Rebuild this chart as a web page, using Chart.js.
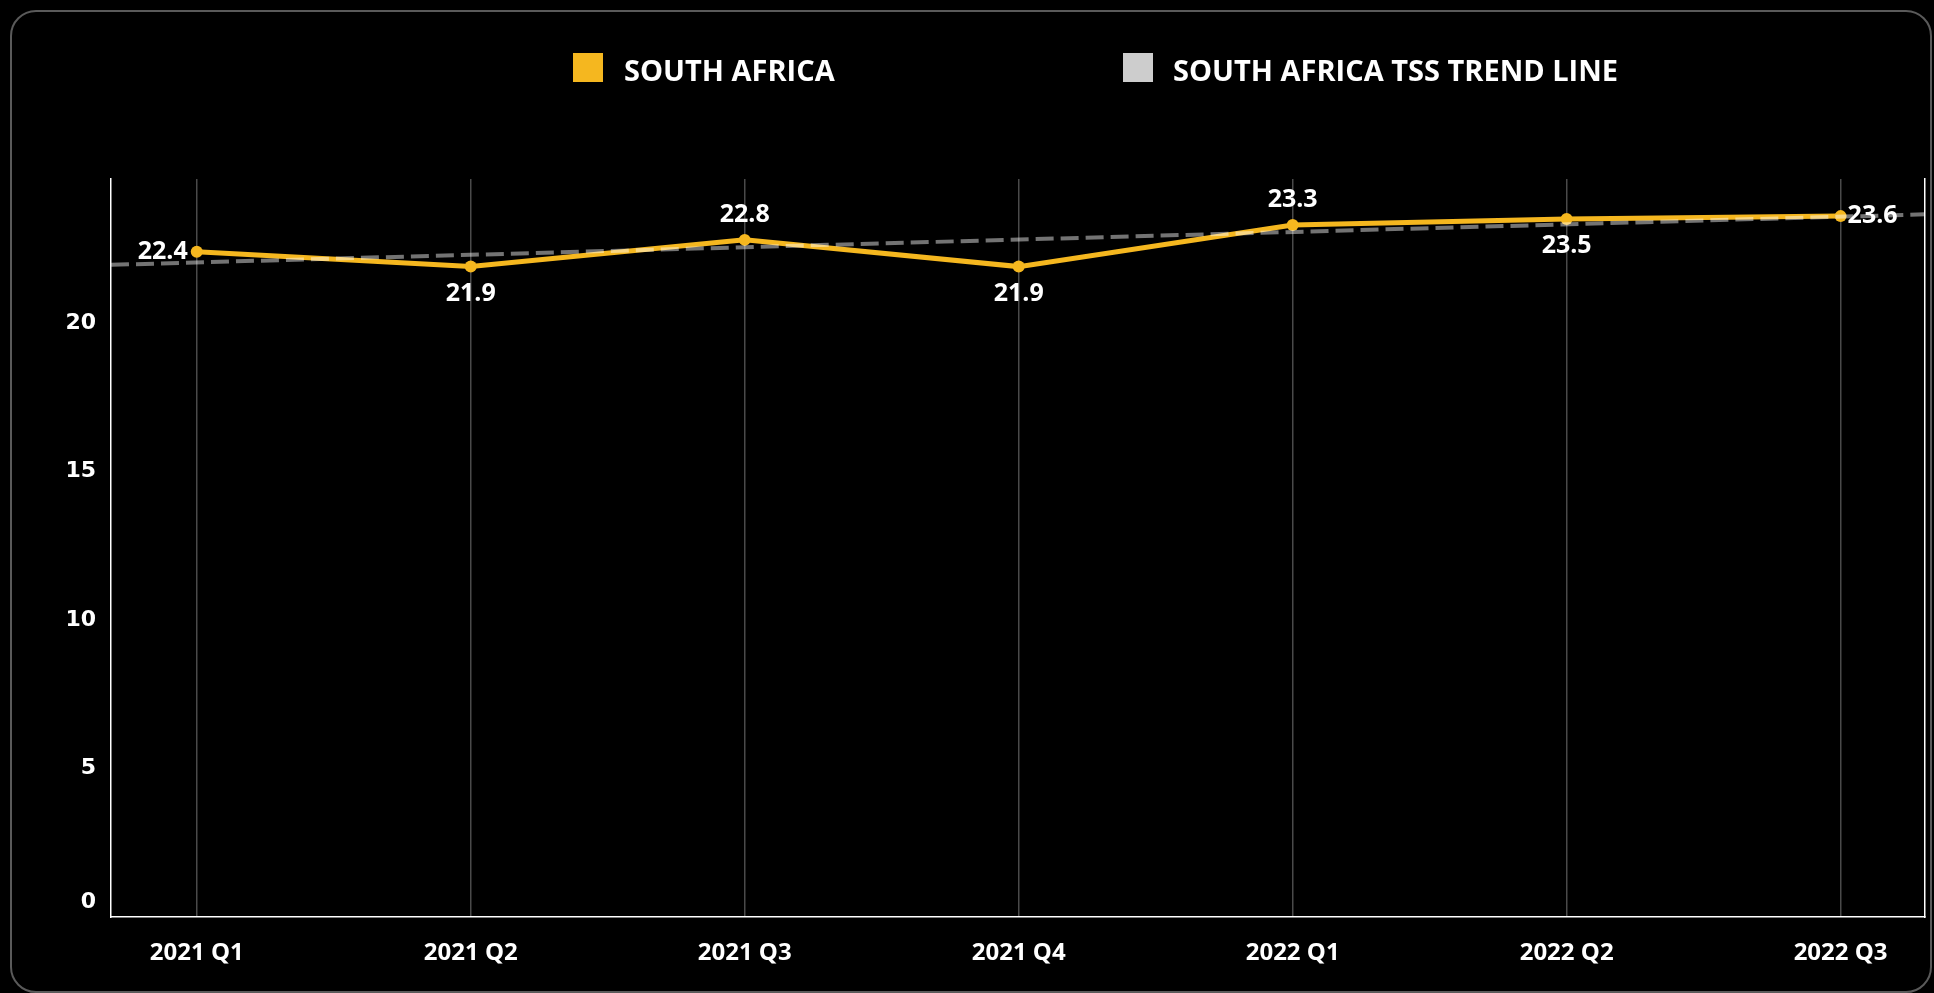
<!DOCTYPE html>
<html>
<head>
<meta charset="utf-8">
<script src="https://cdn.jsdelivr.net/npm/chart.js@4.4.0/dist/chart.umd.min.js"></script>
<style>
  html, body { margin: 0; padding: 0; background: #000; width: 1934px; height: 993px; overflow: hidden; }
  #frame { position: absolute; left: 10px; top: 10px; width: 1922px; height: 983px; box-sizing: border-box;
           border: 2.5px solid #5a5a5a; border-radius: 26px; }
  #chart { position: absolute; left: 0; top: 0; }
</style>
</head>
<body>
<div id="frame"></div>
<canvas id="chart" width="1934" height="993"></canvas>
<script>
// ---- data ----
const categories = ['2021 Q1', '2021 Q2', '2021 Q3', '2021 Q4', '2022 Q1', '2022 Q2', '2022 Q3'];
const southAfrica = [22.4, 21.9, 22.8, 21.9, 23.3, 23.5, 23.6];
const trendStartEnd = [21.96, 23.66];          // trend line values at the left / right edge of the plot
const yTickValues = [0, 5, 10, 15, 20];
const labelPlacement = ['left', 'bottom', 'top', 'bottom', 'top', 'bottom', 'right'];
const seriesNames = ['SOUTH AFRICA', 'SOUTH AFRICA TSS TREND LINE'];

// ---- styling ----
const YELLOW = '#F5B71F';
const LEGEND_GRAY = '#CDCDCD';
const X_MIN = -0.313, X_MAX = 6.308;
const Y_MIN = 0, Y_MAX = 24.85;
const FONT = "'Open Sans', 'Noto Sans', sans-serif";
const YFONT = "'DejaVu Sans', 'Open Sans', sans-serif";

const dataLabels = {
  id: 'dataLabels',
  afterDatasetsDraw(chart) {
    const meta = chart.getDatasetMeta(0);
    const ctx = chart.ctx;
    ctx.save();
    ctx.fillStyle = '#ffffff';
    ctx.font = `700 25px ${FONT}`;
    meta.data.forEach((pt, i) => {
      const txt = southAfrica[i].toFixed(1);
      const pos = labelPlacement[i];
      let x = pt.x, y = pt.y;
      ctx.textBaseline = 'middle';
      if (pos === 'left') { ctx.textAlign = 'right'; x -= 9; }
      else if (pos === 'right') { ctx.textAlign = 'left'; x += 7; }
      else if (pos === 'top') { ctx.textAlign = 'center'; y -= 25; }
      else { ctx.textAlign = 'center'; y += 27; }
      ctx.fillText(txt, x, y);
    });
    ctx.restore();
  }
};

const customLegend = {
  id: 'customLegend',
  afterDraw(chart) {
    const ctx = chart.ctx;
    const items = [
      { box: [573, 53, 30, 29], textX: 624 },
      { box: [1123, 53, 30, 29], textX: 1173 }
    ];
    ctx.save();
    chart.data.datasets.forEach((ds, i) => {
      const it = items[i];
      ctx.fillStyle = ds.legendColor;
      ctx.fillRect(it.box[0], it.box[1], it.box[2], it.box[3]);
      ctx.fillStyle = '#ffffff';
      ctx.font = `700 29px ${FONT}`;
      ctx.textAlign = 'left';
      ctx.textBaseline = 'alphabetic';
      ctx.fillText(ds.label, it.textX, 81);
    });
    ctx.restore();
  }
};

function draw() {
  new Chart(document.getElementById('chart'), {
    type: 'line',
    data: {
      datasets: [
        {
          label: seriesNames[0],
          data: southAfrica.map((v, i) => ({ x: i, y: v })),
          borderColor: YELLOW,
          backgroundColor: YELLOW,
          legendColor: YELLOW,
          borderWidth: 5,
          pointRadius: 6,
          pointBorderWidth: 0,
          pointBackgroundColor: YELLOW,
          tension: 0,
          order: 2
        },
        {
          label: seriesNames[1],
          data: [{ x: X_MIN, y: trendStartEnd[0] }, { x: X_MAX, y: trendStartEnd[1] }],
          borderColor: 'rgba(255,255,255,0.45)',
          legendColor: LEGEND_GRAY,
          borderWidth: 4,
          borderDash: [18, 7],
          pointRadius: 0,
          tension: 0,
          order: 1
        }
      ]
    },
    options: {
      responsive: false,
      animation: false,
      devicePixelRatio: 1,
      layout: { padding: { top: 179, right: 9, bottom: 0, left: 0 } },
      plugins: { legend: { display: false }, tooltip: { enabled: false } },
      scales: {
        x: {
          type: 'linear',
          min: X_MIN, max: X_MAX,
          afterBuildTicks: s => { s.ticks = categories.map((c, i) => ({ value: i })); },
          afterFit: s => { s.height = 76; },
          ticks: {
            color: '#ffffff',
            font: { family: FONT, size: 24, weight: '700' },
            padding: 22,
            maxRotation: 0,
            autoSkip: false,
            callback: v => categories[v]
          },
          grid: { display: true, color: '#4a4a4a', lineWidth: 1.5, drawTicks: false },
          border: { display: true, color: '#ffffff', width: 1.5 }
        },
        y: {
          position: 'left',
          min: Y_MIN, max: Y_MAX,
          afterBuildTicks: s => { s.ticks = yTickValues.map(v => ({ value: v })); },
          afterFit: s => { s.width = 111; },
          ticks: {
            color: '#ffffff',
            font: { family: YFONT, size: 22, weight: 'bold', lineHeight: 1.3 },
            padding: 15,
            callback: v => (v === 0 ? ['0', ''] : String(v))
          },
          grid: { display: false, drawTicks: false },
          border: { display: true, color: '#ffffff', width: 1.5 }
        },
        yRight: {
          position: 'right',
          min: Y_MIN, max: Y_MAX,
          afterFit: s => { s.width = 0; },
          ticks: { display: false },
          grid: { display: false, drawTicks: false },
          border: { display: true, color: '#ffffff', width: 1.5 }
        }
      }
    },
    plugins: [dataLabels, customLegend]
  });
}

if (document.fonts && document.fonts.load) {
  Promise.all([
    document.fonts.load(`700 29px 'Open Sans'`),
    document.fonts.load(`700 24px 'Open Sans'`),
    document.fonts.load(`bold 22px 'DejaVu Sans'`)
  ]).then(draw, draw);
} else { draw(); }
</script>
</body>
</html>
